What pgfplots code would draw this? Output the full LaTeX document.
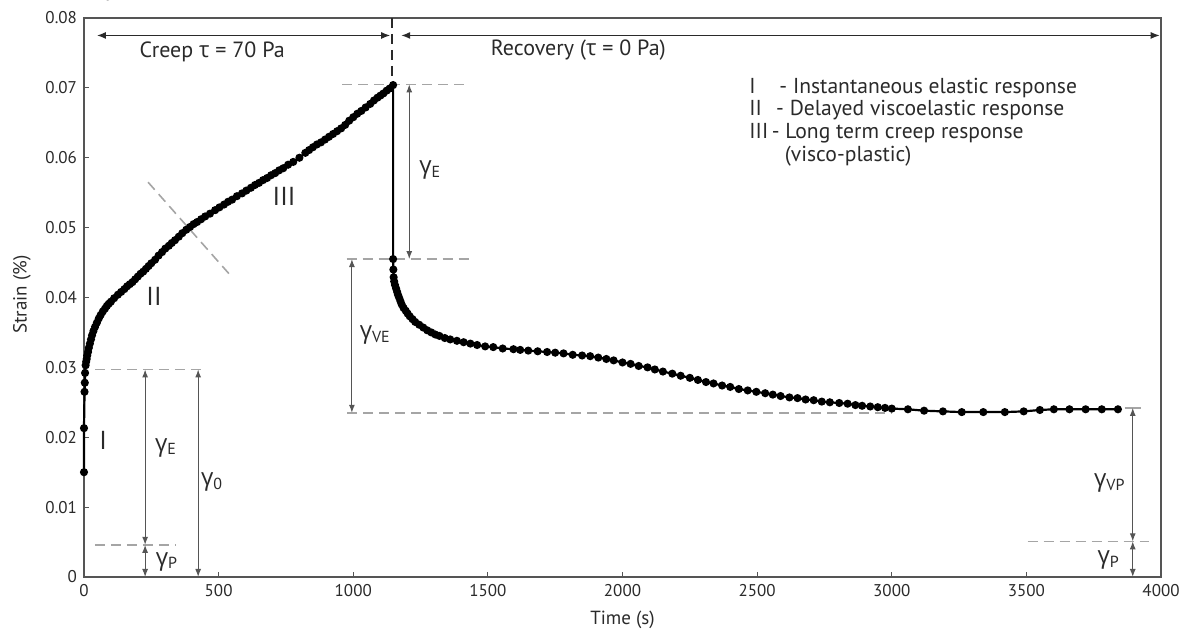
\documentclass[border=0pt]{standalone}
\usepackage{fontspec}
\setmainfont{PT Sans}
\newfontfamily\gr{Open Sans}
\usepackage{pgfplots}
\pgfplotsset{compat=1.18}
\usetikzlibrary{arrows.meta}
\definecolor{axgray}{HTML}{555555}
\definecolor{dgray}{HTML}{A5A5A5}
\definecolor{txt}{HTML}{2A2A2A}
\newcommand{\g}[1]{{\gr γ}\textsubscript{#1}}
\tikzset{
  dim/.style={axgray, line width=0.55pt, {Latex[length=4pt,width=3pt]}-{Latex[length=4pt,width=3pt]}},
  gdash/.style={dgray, line width=0.8pt, dash pattern=on 5pt off 3pt},
  glab/.style={txt, font=\fontsize{12}{12}\selectfont},
  rlab/.style={txt, font=\fontsize{13}{13}\selectfont},
}
\begin{document}
\begin{tikzpicture}[font=\fontsize{9}{10}\selectfont]
\begin{axis}[
  scale only axis, width=538.5pt, height=279.5pt,
  xmin=0, xmax=4000, ymin=0, ymax=0.08,
  axis line style={axgray, line width=0.9pt},
  xtick={0,500,1000,1500,2000,2500,3000,3500,4000},
  xticklabels={0,500,1000,1500,2000,2500,3000,3500,4000},
  ytick={0,0.01,0.02,0.03,0.04,0.05,0.06,0.07,0.08},
  yticklabels={0,0.01,0.02,0.03,0.04,0.05,0.06,0.07,0.08},
  tick align=inside, major tick length=2.5pt,
  xtick pos=bottom, ytick pos=left,
  tick style={axgray, line width=0.5pt},
  ticklabel style={txt, font=\fontsize{8.5}{10}\selectfont},
  xlabel={Time (s)}, ylabel={Strain (\%)},
  xlabel style={txt, font=\fontsize{9.5}{10}\selectfont, at={(axis description cs:0.5,0)}, anchor=center, yshift=-21.5pt},
  ylabel style={txt, font=\fontsize{9.5}{10}\selectfont, at={(axis description cs:-0.0576,0.505)}, anchor=center},
  clip=false,
]
\addplot[black, line width=1.1pt, mark=*, mark size=1.45pt] coordinates {
(0,0.0150) (0,0.0213) (2,0.0265) (3,0.0278) (4,0.0292) (6,0.0303)
(8,0.0308) (10,0.0312) (12,0.0317) (15,0.0322) (18,0.0328) (22,0.0334) (26,0.0340) (30,0.0346)
(35,0.0352) (41,0.0358) (48,0.0364) (55,0.0370) (62,0.0375)
(70,0.0380) (78,0.0384) (85,0.0388) (92,0.0391) (100,0.0394) (112,0.0399) (126,0.0404) (138,0.0408) (150,0.0412) (160,0.0416) (170,0.0419) (180,0.0422)
(190,0.0426) (200,0.0430) (210,0.0434) (220,0.0437) (230,0.0441) (240,0.0445) (250,0.0449) (264,0.0454) (277,0.0460) (290,0.0465) (302,0.0470)
(315,0.0474) (326,0.0478) (338,0.0482) (352,0.0487) (365,0.0492) (380,0.0497) (394,0.0501) (407,0.0505) (420,0.0508) (435,0.0512) (450,0.0516)
(468,0.0520) (487,0.0525) (503,0.0529) (520,0.0533) (535,0.0537) (550,0.0540) (568,0.0545) (587,0.0549) (603,0.0553) (620,0.0557) (635,0.0561) (650,0.0564)
(665,0.0568) (680,0.0571) (695,0.0575) (710,0.0578) (725,0.0582) (740,0.0585) (758,0.0590) (777,0.0594) (800,0.0600) (822,0.0607)
(836,0.0611) (850,0.0615) (865,0.0619) (880,0.0622) (895,0.0626) (910,0.0630) (925,0.0634) (940,0.0638) (955,0.0642) (970,0.0647) (985,0.0653) (1000,0.0658)
(1015,0.0663) (1030,0.0667) (1046,0.0672) (1063,0.0677) (1077,0.0682) (1090,0.0686) (1101,0.0689) (1112,0.0692) (1124,0.0696) (1135,0.0699) (1148,0.0704)
(1148,0.0455) (1149,0.0440) (1150,0.0429) (1152,0.0423) (1155,0.0418) (1159,0.0413) (1163,0.0408) (1166,0.0404) (1170,0.0400) (1175,0.0395) (1180,0.0390)
(1187,0.0385) (1195,0.0381) (1202,0.0377) (1210,0.0373) (1220,0.0369) (1230,0.0365) (1245,0.0361) (1260,0.0357) (1275,0.0353) (1290,0.0350) (1305,0.0347) (1320,0.0345)
(1340,0.0342) (1360,0.0340) (1385,0.0338) (1410,0.0336) (1435,0.0334) (1460,0.0332) (1490,0.0330) (1520,0.0329) (1555,0.0327) (1595,0.0326) (1620,0.0325) (1650,0.0324)
(1685,0.0323) (1720,0.0322) (1750,0.0321) (1781,0.0320) (1815,0.0318) (1850,0.0317) (1880,0.0316) (1910,0.0314) (1940,0.0312) (1967,0.0310) (2000,0.0307) (2030,0.0305)
(2060,0.0302) (2093,0.0300) (2120,0.0297) (2150,0.0294) (2185,0.0291) (2216,0.0288) (2250,0.0285) (2280,0.0282) (2310,0.0279) (2338,0.0277) (2370,0.0274) (2400,0.0272)
(2432,0.0269) (2465,0.0267) (2497,0.0265) (2530,0.0263) (2558,0.0261) (2587,0.0259) (2620,0.0257) (2650,0.0256) (2680,0.0254) (2710,0.0253) (2740,0.0251) (2770,0.0250)
(2805,0.0249) (2836,0.0248) (2865,0.0246) (2890,0.0245) (2920,0.0244) (2948,0.0243) (2975,0.0242) (3000,0.0241) (3060,0.0240) (3120,0.0238)
(3190,0.0237) (3260,0.0236) (3340,0.0236) (3420,0.0236) (3490,0.0237) (3550,0.0239)
(3602,0.0240) (3660,0.0240) (3720,0.0240) (3780,0.0240) (3840,0.0240)
};
% top arrows and divider
\draw[txt, line width=0.6pt, {Latex[length=4.5pt,width=3.5pt]}-{Latex[length=4.5pt,width=3.5pt]}] (axis cs:48,0.0775) -- (axis cs:1137,0.0775);
\draw[txt, line width=0.6pt, {Latex[length=4.5pt,width=3.5pt]}-{Latex[length=4.5pt,width=3.5pt]}] (axis cs:1178,0.0775) -- (axis cs:3995,0.0775);
\draw[txt, line width=0.9pt, dash pattern=on 5pt off 3pt] (axis cs:1145,0.08) -- (axis cs:1145,0.0712);
\node[txt, font=\fontsize{11}{12}\selectfont] at (axis cs:476,0.0751) {Creep {\gr τ} = 70 Pa};
\node[txt, font=\fontsize{11}{12}\selectfont] at (axis cs:1836,0.0754) {Recovery ({\gr τ} = 0 Pa)};
% gray dashed guides
\draw[gdash] (axis cs:960,0.0705) -- (axis cs:1416,0.0705);
\draw[gdash] (axis cs:975,0.0455) -- (axis cs:1435,0.0455);
\draw[gdash] (axis cs:977,0.0235) -- (axis cs:3000,0.0235);
\draw[gdash] (axis cs:40,0.0297) -- (axis cs:450,0.0297);
\draw[gdash] (axis cs:40,0.0046) -- (axis cs:342,0.0046);
\draw[gdash] (axis cs:3505,0.0051) -- (axis cs:3955,0.0051);
\draw[dgray, line width=0.8pt] (axis cs:3865,0.0242) -- (axis cs:3925,0.0242);
\draw[gdash] (axis cs:238,0.0565) -- (axis cs:550,0.0429);
% dimension arrows
\draw[dim] (axis cs:1208,0.0705) -- (axis cs:1208,0.0455);
\node[glab] at (axis cs:1286,0.0582) {\g{E}};
\draw[dim] (axis cs:995,0.0455) -- (axis cs:995,0.0235);
\node[glab] at (axis cs:1082,0.0346) {\g{VE}};
\draw[dim] (axis cs:3895,0.0242) -- (axis cs:3895,0.0051);
\node[glab] at (axis cs:3810,0.0134) {\g{VP}};
\draw[dim] (axis cs:3895,0.0051) -- (axis cs:3895,0);
\node[glab] at (axis cs:3806,0.0024) {\g{P}};
\draw[dim] (axis cs:227,0.0297) -- (axis cs:227,0.0046);
\node[glab] at (axis cs:305,0.0185) {\g{E}};
\draw[dim] (axis cs:424,0.0297) -- (axis cs:424,0);
\node[glab] at (axis cs:476,0.0136) {\g{0}};
\draw[dim] (axis cs:227,0.0046) -- (axis cs:227,0);
\node[glab] at (axis cs:308,0.0022) {\g{P}};
% roman labels
\node[rlab] at (axis cs:71,0.0196) {I};
\node[rlab] at (axis cs:260,0.0401) {II};
\node[rlab] at (axis cs:743,0.0545) {III};
% legend text
\node[txt, anchor=north west, inner sep=0pt, font=\fontsize{10.8}{11.4}\selectfont, align=left] at (axis cs:2470,0.0716) {%
\begin{tabular}{@{}l@{\,}l@{}}
I & \hspace{0.35em}- Instantaneous elastic response\\
II & \hspace{0.2em}- Delayed viscoelastic response\\
III & - Long term creep response\\
 & \hspace{0.6em}(visco-plastic)
\end{tabular}};
\end{axis}
\pgfresetboundingbox
\path[use as bounding box] ([shift={(-42pt,-30pt)}]current axis.south west) rectangle ([shift={(16.5pt,9pt)}]current axis.north east);
\end{tikzpicture}
\end{document}
